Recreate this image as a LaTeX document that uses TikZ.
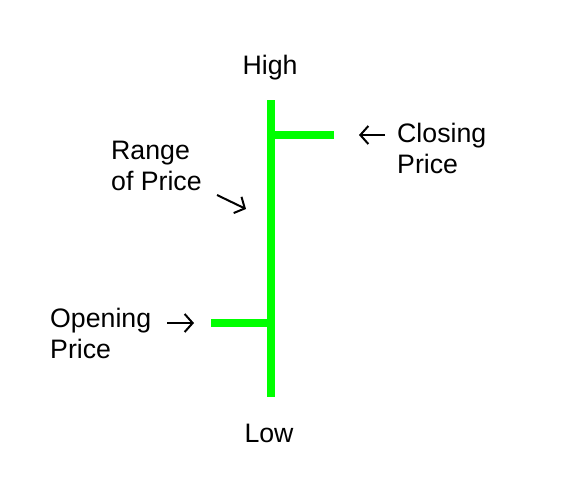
\documentclass[tikz,border=0pt]{standalone}
\usepackage{fontspec}
\setmainfont{Liberation Sans}
\usetikzlibrary{arrows.meta}
\tikzset{
  pricebar/.style={line width=8pt,draw={rgb,255:red,0;green,255;blue,0}},
  pointer/.style={line width=2pt,-{Straight Barb[length=8pt,width=18pt,line width=2pt]}},
  lbl/.style={inner sep=0pt,font=\fontsize{26.7}{31}\selectfont,align=left}
}
\begin{document}
\begin{tikzpicture}[x=1pt,y=-1pt,line cap=butt]
  \useasboundingbox (0,0) rectangle (568,483);
  % the bar
  \coordinate (top) at (271,100); \coordinate (bot) at (271,397);
  \coordinate (cl) at (334,134.5); \coordinate (op) at (211,323);
  \draw[pricebar] (top) -- (bot);
  \draw[pricebar] (cl) -- (271,134.5);
  \draw[pricebar] (op) -- (271,323);
  % labels
  \node[lbl] (high) at (270,68) {High};
  \node[lbl] (low) at (269,433) {Low};
  \node[lbl,anchor=west] (range) at (111,165.5) {Range\\of Price};
  \node[lbl,anchor=west] (closing) at (397,148.5) {Closing\\Price};
  \node[lbl,anchor=west] (opening) at (50,333.5) {Opening\\Price};
  % pointers
  \coordinate (r1) at (217,195); \coordinate (r2) at (246,209);
  \coordinate (c1) at (385,135); \coordinate (c2) at (359,135);
  \coordinate (o1) at (167,323); \coordinate (o2) at (194,323);
  \draw[pointer] (r1) -- (r2);
  \draw[pointer] (c1) -- (c2);
  \draw[pointer] (o1) -- (o2);
\end{tikzpicture}
\end{document}
